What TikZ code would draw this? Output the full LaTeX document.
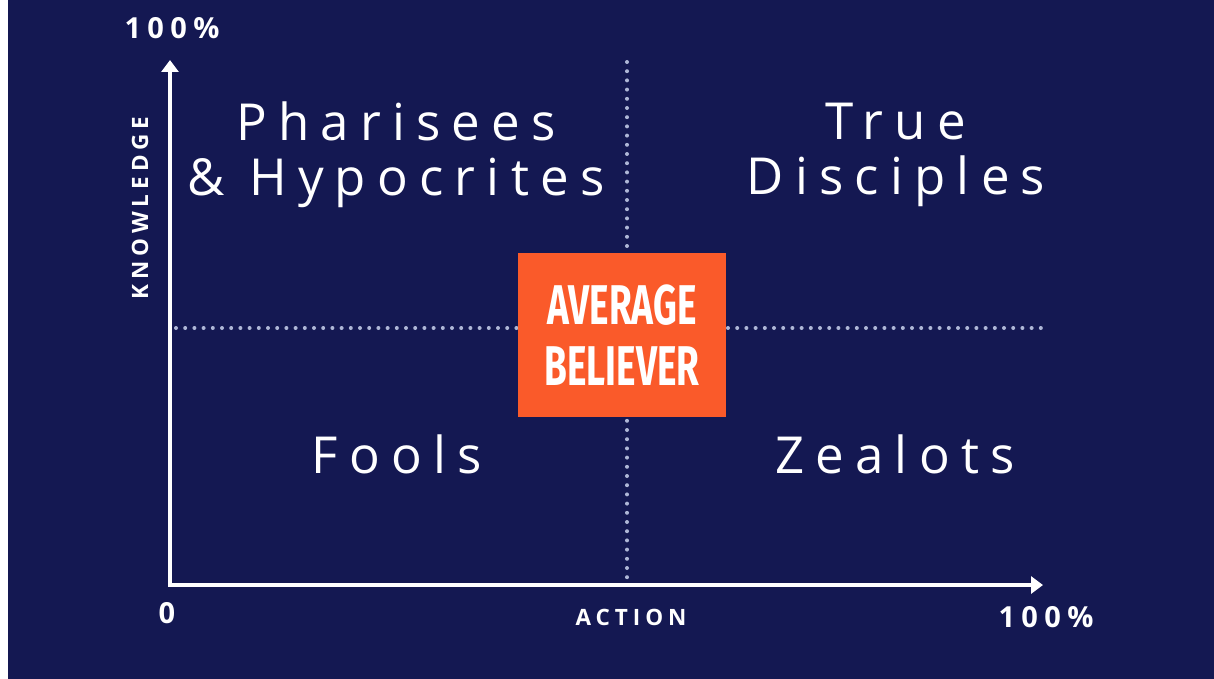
\documentclass[tikz,border=0pt]{standalone}
\usepackage{fontspec}
\usepackage{graphicx}
\usetikzlibrary{arrows.meta}
\setmainfont{Open Sans}
\newfontfamily\quadfont[LetterSpace=22]{Open Sans}
\newfontfamily\labfont[LetterSpace=22]{Open Sans}
\newfontfamily\boxfont{Fira Sans}
\definecolor{navy}{RGB}{20,24,82}
\definecolor{boxorange}{RGB}{250,90,42}
\definecolor{dotgray}{RGB}{175,183,215}
\tikzset{
  axis/.style={draw=white, line width=4pt, line join=miter},
  dotline/.style={draw=dotgray, line width=4pt, line cap=round, dash pattern=on 0pt off 9.2pt},
  quad/.style={text=white, align=center, inner sep=0pt, font=\quadfont\fontsize{51}{55}\selectfont},
  lab/.style={text=white, inner sep=0pt, font=\labfont\bfseries\fontsize{29}{30}\selectfont},
  smalllab/.style={text=white, inner sep=0pt, font=\labfont\bfseries\fontsize{22.5}{24}\selectfont},
  avg/.style={fill=boxorange, text=white, minimum width=208pt, minimum height=164pt, inner sep=0pt, align=center,
    font=\boxfont\bfseries\fontsize{56}{61}\selectfont}
}
\begin{document}
\begin{tikzpicture}[x=1pt,y=-1pt]
\useasboundingbox (0,0) rectangle (1214,679);
\fill[white] (0,0) rectangle (8,679);
\fill[navy] (8,0) rectangle (1214,679);
% coordinates
\coordinate (origin) at (170,585);
\coordinate (ytop) at (170,60);
\coordinate (xend) at (1043,585);
\coordinate (vtop) at (627,62);
\coordinate (vbot) at (627,583);
\coordinate (hleft) at (176,328);
\coordinate (hright) at (1041,328);
% dotted guides
\draw[dotline] (vtop) -- (vbot);
\draw[dotline] (hleft) -- (hright);
% axes
\draw[axis, {Triangle[width=17pt,length=12pt]}-{Triangle[width=17pt,length=12pt]}] (ytop) -- (origin) -- (xend);
% quadrant labels
\node[quad] (ph) at (396,155) {Pharisees\\\& Hypocrites};
\node[quad] (td) at (896,155) {True\\Disciples};
\node[quad] (fo) at (397,454) {Fools};
\node[quad] (ze) at (895,454) {Zealots};
% centre box
\node[avg] (ab) at (622,335) {\scalebox{0.66}[1]{AVERAGE}\\\scalebox{0.66}[1]{BELIEVER}};
% axis labels
\node[lab] (ytoplab) at (172,28) {100\%};
\node[lab] (zero) at (167,613) {0};
\node[lab] (xendlab) at (1046,617) {100\%};
\node[smalllab] (act) at (631,617) {ACTION};
\node[smalllab, rotate=90] (know) at (140,208) {KNOWLEDGE};
\end{tikzpicture}
\end{document}
